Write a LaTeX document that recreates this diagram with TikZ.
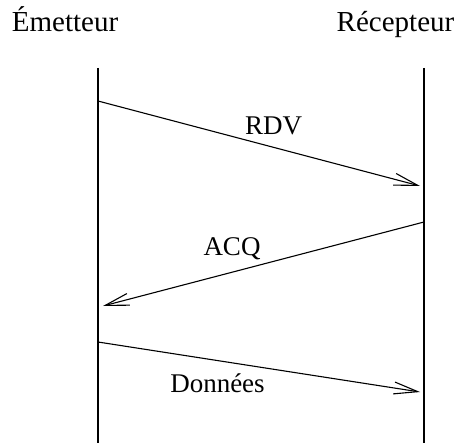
\documentclass[tikz,border=0pt]{standalone}
\usepackage{fontspec}
\setmainfont{Liberation Serif}
\usetikzlibrary{arrows.meta}
\begin{document}
\begin{tikzpicture}[x=1pt,y=-1pt,line width=1.1pt]
        \useasboundingbox (0,0) rectangle (454,443);
        \scoped{
                \tikzstyle{every node}=[anchor=base, inner sep=0pt, font=\fontsize{27}{32}\selectfont];
                \node (em) at (65,32) {\fontsize{29}{34}\selectfont Émetteur};
                \node (rec) at (395.5,32) {\fontsize{29}{34}\selectfont Récepteur};
                \node (rdv) at (273.5,135) {RDV};
                \node (acq) at (232,255) {ACQ};
                \node (don) at (217.5,392) {Données};
            };
        \coordinate (emtop) at (98,68); \coordinate (embot) at (98,443);
        \coordinate (rectop) at (424,68); \coordinate (recbot) at (424,443);
        \draw (emtop) -- (embot);
        \draw (rectop) -- (recbot);
        \coordinate (e1) at (98,101); \coordinate (r1) at (420,186);
        \coordinate (r2) at (424,222); \coordinate (e2) at (103,306);
        \coordinate (e3) at (98,342); \coordinate (r3) at (420,392);
        \scoped{
                \tikzstyle{every path}=[-{Straight Barb[length=24pt,width=12pt]}];
                \draw (e1) -- (r1);
                \draw (r2) -- (e2);
                \draw (e3) -- (r3);
            };
    \end{tikzpicture}
\end{document}
